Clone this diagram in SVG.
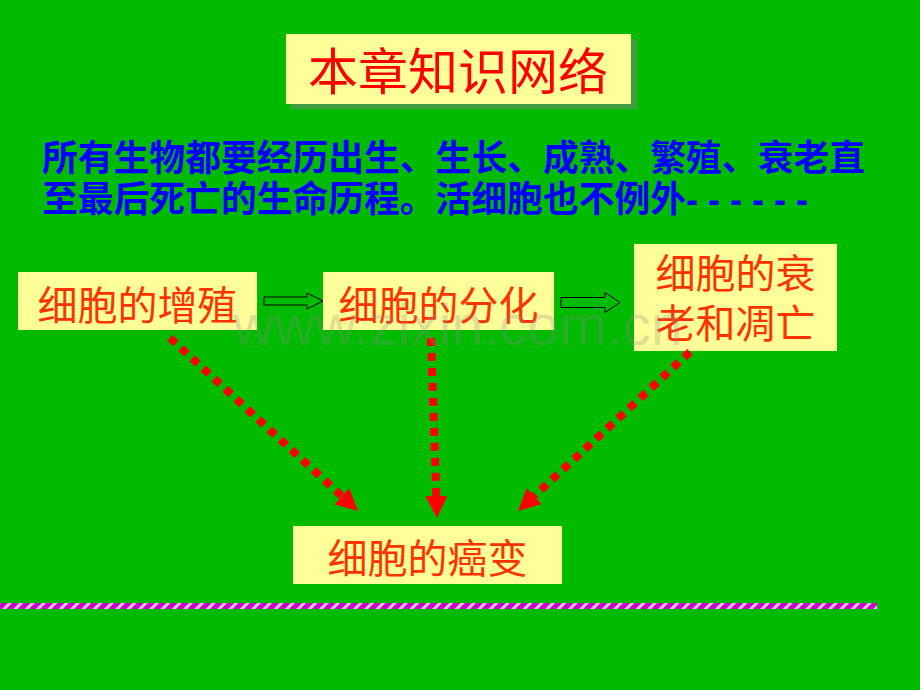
<svg xmlns="http://www.w3.org/2000/svg" width="920" height="690" viewBox="0 0 920 690">
<defs>
<style>
.box{fill:#FFFF99;}
.cn{font-family:"Noto Sans CJK SC","Noto Sans CJK JP",sans-serif;}
.nt{fill:#FF3300;font-size:40px;text-anchor:middle;}
.hollow{fill:#00BB00;stroke:#000;stroke-width:1;}
.dash{fill:none;stroke:#FF0000;stroke-width:8;stroke-dasharray:8 7;marker-end:url(#ah);}
</style>
<marker id="ah" markerUnits="userSpaceOnUse" viewBox="0 0 22 22" markerWidth="22" markerHeight="22" refX="0" refY="11" orient="auto">
<path d="M0,0 L22,11 L0,22 Z" fill="#FF0000"/>
</marker>
<pattern id="stripe" patternUnits="userSpaceOnUse" width="8" height="8" patternTransform="rotate(45)">
<rect width="8" height="8" fill="#CC00CC"/>
<rect width="3" height="8" fill="#F4C0F4"/>
</pattern>
</defs>
<rect width="920" height="690" fill="#00BB00"/>
<g id="title">
<rect x="291" y="39" width="346" height="70" fill="#40A040"/>
<rect x="286" y="34" width="345" height="70" class="box"/>
<text x="458" y="90" class="cn" font-size="50" fill="#FF0000" text-anchor="middle">本章知识网络</text>
</g>
<g id="intro" class="cn" fill="#0000FF" font-size="36" font-weight="bold">
<text x="42" y="171" textLength="823" lengthAdjust="spacingAndGlyphs">所有生物都要经历出生、生长、成熟、繁殖、衰老直</text>
<text x="42" y="212"><tspan textLength="644" lengthAdjust="spacingAndGlyphs">至最后死亡的生命历程。活细胞也不例外</tspan><tspan font-family="Liberation Sans, sans-serif">- - - - - -</tspan></text>
</g>
<g id="n1">
<rect x="18" y="272" width="239" height="58" class="box"/>
<text x="137.5" y="320" class="cn nt">细胞的增殖</text>
</g>
<g id="n2">
<rect x="323" y="272" width="231" height="58" class="box"/>
<text x="438.5" y="320" class="cn nt">细胞的分化</text>
</g>
<g id="n3">
<rect x="634" y="244" width="203" height="107" class="box"/>
<text x="735.5" y="288" class="cn nt">细胞的衰</text>
<text x="735.5" y="338" class="cn nt">老和凋亡</text>
</g>
<g id="n4">
<rect x="293" y="526" width="269" height="58" class="box"/>
<text x="427.5" y="573" class="cn nt">细胞的癌变</text>
</g>
<g id="connectors">
<path class="hollow" d="M264,297 L307,297 L307,293 L323,301 L307,309 L307,305 L264,305 Z"/>
<path class="hollow" d="M561,297.5 L605,297.5 L605,292.5 L620,302.5 L605,312.5 L605,307.5 L561,307.5 Z"/>
<path class="dash" d="M170,338 L341.8,496.1"/>
<path class="dash" d="M431,338 L436.3,496"/>
<path class="dash" d="M690,352 L534.2,496.1"/>
</g>
<rect x="0" y="603" width="877" height="6" fill="url(#stripe)"/>
<text id="watermark" x="233" y="345" font-family="Liberation Sans, Arial, sans-serif" font-size="57" fill="#888888" fill-opacity="0.28">www.zixin.com.cn</text>
</svg>
